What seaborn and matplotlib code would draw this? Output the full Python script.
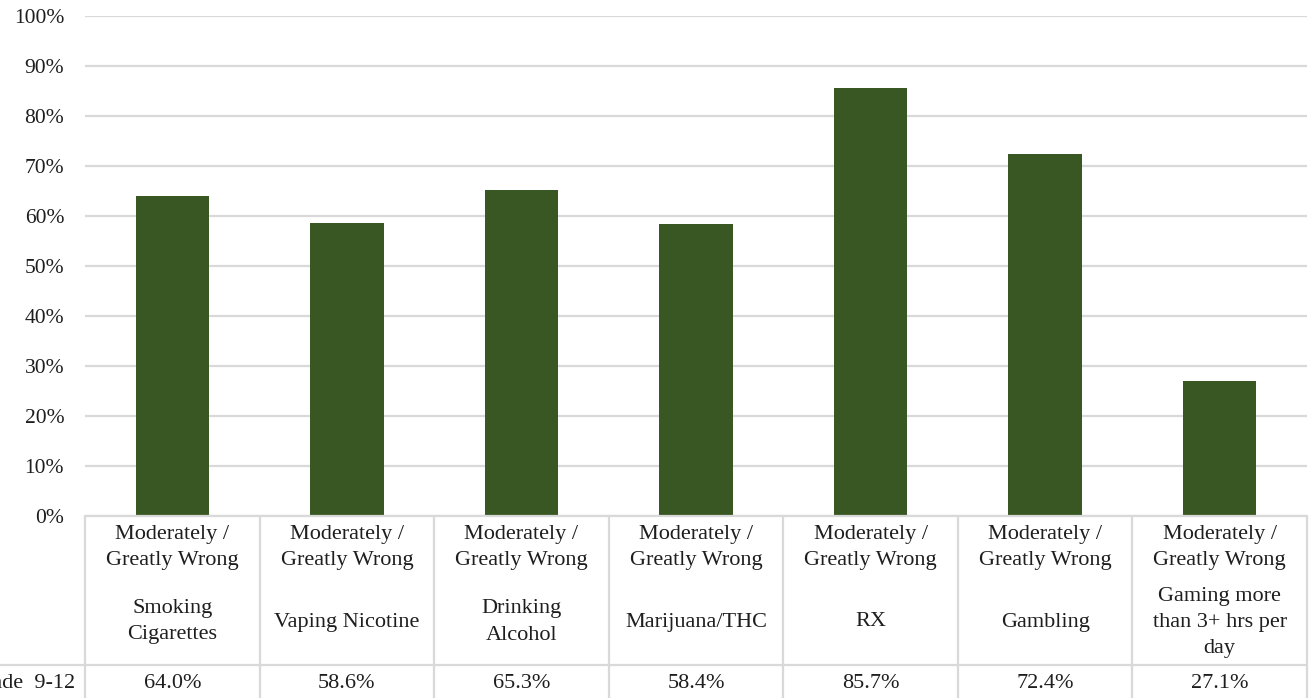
import matplotlib
matplotlib.use("Agg")
import matplotlib.pyplot as plt
import matplotlib.transforms as mtransforms
from matplotlib.ticker import PercentFormatter, MultipleLocator
from matplotlib.lines import Line2D
import seaborn as sns
import pandas as pd

# ---- data -------------------------------------------------------------
categories = [
    "Smoking\nCigarettes",
    "Vaping Nicotine",
    "Drinking\nAlcohol",
    "Marijuana/THC",
    "RX",
    "Gambling",
    "Gaming more\nthan 3+ hrs per\nday",
]
response_label = "Moderately /\nGreatly Wrong"
values = [64.0, 58.6, 65.3, 58.4, 85.7, 72.4, 27.1]
row_label = "Grade  9-12"
y_max = 100

# ---- styling ----------------------------------------------------------
sns.set_theme(style="white")
plt.rcParams["font.family"] = ["Liberation Serif", "DejaVu Serif"]

BAR = "#385723"
GRID = "#d9d9d9"
TEXT = "#1e1e1e"
FS = 16
LS = 1.5

W, H = 1309, 698
fig = plt.figure(figsize=(W / 100, H / 100), dpi=100)
fig.patch.set_facecolor("white")

# plot area: 0% at y=516 px, 100% at y=16 px
ax = fig.add_axes([85 / W, (H - 516) / H, 1222 / W, 500 / H])

df = pd.DataFrame({"category": categories, "value": values})
sns.barplot(data=df, x="category", y="value", color=BAR, saturation=1,
            width=0.42, linewidth=0, ax=ax, zorder=3)

ax.set_xlim(-0.5, len(categories) - 0.5)
ax.set_ylim(0, y_max)
ax.yaxis.set_major_locator(MultipleLocator(10))
ax.yaxis.set_major_formatter(PercentFormatter(decimals=0))
ax.set_axisbelow(True)
ax.grid(axis="y", color=GRID, lw=1.6)
ax.grid(axis="x", visible=False)
for s in ax.spines.values():
    s.set_visible(False)
ax.set_xticks([])
ax.set_xlabel("")
ax.set_ylabel("")
ax.tick_params(axis="y", length=0, pad=15, labelsize=15.5, labelcolor=TEXT)

# ---- data table under the bars ---------------------------------------
blend = mtransforms.blended_transform_factory(ax.transData, fig.transFigure)


def yf(px):
    return 1 - px / H


n = len(categories)
line_kw = dict(color=GRID, lw=1.6, transform=blend, clip_on=False)

# horizontal rules
fig.add_artist(Line2D([-0.5, n - 0.5], [yf(516), yf(516)], **line_kw))
fig.add_artist(Line2D([-3, n - 0.5], [yf(665), yf(665)], **line_kw))
# column separators
for i in range(n + 1):
    fig.add_artist(Line2D([i - 0.5, i - 0.5], [yf(516), yf(700)], **line_kw))

for i, (cat, v) in enumerate(zip(categories, values)):
    ax.text(i, yf(548), response_label, ha="center", va="center",
            fontsize=FS, color=TEXT, linespacing=LS, transform=blend)
    ax.text(i, yf(622), cat, ha="center", va="center",
            fontsize=FS, color=TEXT, linespacing=LS, transform=blend)
    ax.text(i, yf(683), f"{v:.1f}%", ha="center", va="center",
            fontsize=FS, color=TEXT, transform=blend)

fig.text(75 / W, yf(683), row_label, ha="right", va="center",
         fontsize=FS, color=TEXT)

fig.savefig("out.png", dpi=100, facecolor="white")
